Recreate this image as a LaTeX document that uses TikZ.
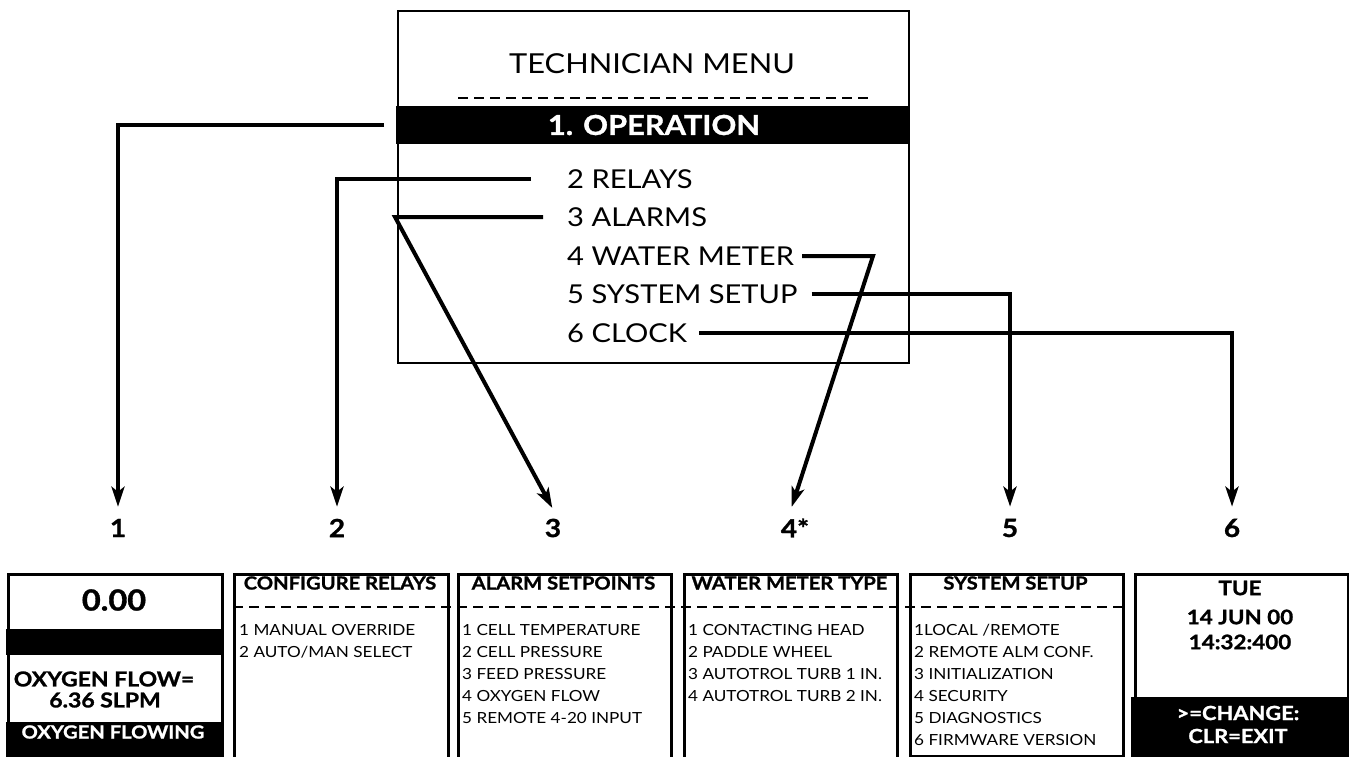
\documentclass[tikz,border=0pt]{standalone}
\usepackage{fontspec}
\setmainfont{Lato}[FakeStretch=1.12, BoldFeatures={FakeBold=1.2}]
\usetikzlibrary{arrows.meta}
\newcommand\myfs[1]{\fontsize{#1}{#1}\selectfont}
\begin{document}
\begin{tikzpicture}[x=1pt,y=-1pt,
  txt/.style={inner sep=0pt},
  menubox/.style={draw, line width=2pt, inner sep=0pt, anchor=north west},
  mitem/.style={txt, anchor=west, font=\myfs{26}},
  conn/.style={line width=4pt, -{Stealth[length=20pt,width=13pt,inset=5pt]}, shorten >=12pt},
  lbl/.style={txt, font=\bfseries\myfs{25}},
  panel/.style={draw, line width=2.5pt, inner sep=0pt, anchor=north west, minimum width=213pt, minimum height=200pt},
  phead/.style={txt, font=\bfseries\myfs{18}},
  plist/.style={txt, anchor=north west, align=left, font=\fontsize{15.3}{22}\selectfont},
  blk/.style={fill=black, inner sep=0pt, anchor=north west},
  wtxt/.style={txt, text=white, font=\bfseries\myfs{19.5}},
  dline/.style={line width=2.5pt, dash pattern=on 10pt off 6pt}
]
\path[use as bounding box] (0,0) rectangle (1349,757);
\clip (0,0) rectangle (1349,757);

% ---------- technician menu ----------
\node[menubox, minimum width=511pt, minimum height=352pt] (menu) at (397,10) {};
\node[txt, font=\myfs{27.5}] (title) at (652,64) {TECHNICIAN MENU};
\draw[dline] (458,98) -- (870,98);
\node[blk, minimum width=513pt, minimum height=38pt] (band) at (396,106) {};
\node[txt, text=white, font=\bfseries\myfs{27.5}] (op) at (654,125) {1. OPERATION};
\node[mitem] (relays) at (567,179) {2 RELAYS};
\node[mitem] (alarms) at (567,217) {3 ALARMS};
\node[mitem] (water)  at (567,256) {4 WATER METER};
\node[mitem] (system) at (567,294) {5 SYSTEM SETUP};
\node[mitem] (clock)  at (567,333) {6 CLOCK};

% ---------- number labels ----------
\node[lbl] (l1) at (118,528) {1};
\node[lbl] (l2) at (337,528) {2};
\node[lbl] (l3) at (553,528) {3};
\node[lbl] (l4) at (795,528) {4*};
\node[lbl] (l5) at (1010,528) {5};
\node[lbl] (l6) at (1232,528) {6};

% ---------- connectors ----------
\coordinate (k3) at (395,0);
\coordinate (k4) at (873,0);
\draw[conn] ([xshift=-12pt]band.west) -| (l1.north);
\draw[conn] ([xshift=-36pt]relays.west) -| (l2.north);
\draw[conn] ([xshift=-24pt]alarms.west) -- (k3 |- alarms.west) -- ([xshift=5pt]l3.north);
\draw[conn] ([xshift=8pt]water.east) -- (k4 |- water.east) -- ([xshift=-7pt]l4.north);
\draw[conn] ([xshift=14pt]system.east) -| (l5.north);
\draw[conn] ([xshift=12pt]clock.east) -| (l6.north);

% ---------- bottom panels ----------
\node[panel, minimum width=214pt] (p1) at (7,573) {};
\node[panel, minimum width=214pt] (p2) at (233,573) {};
\node[panel] (p3) at (457,573) {};
\node[panel] (p4) at (683,573) {};
\node[panel, minimum height=182pt] (p5) at (909,573) {};
\node[panel] (p6) at (1134,573) {};
\draw[dline] ([yshift=-34pt]p2.north west) -- ([yshift=-34pt]p5.north east);

% panel 1
\node[txt, font=\bfseries\myfs{29}] (v1) at (114,600) {0.00};
\node[blk, minimum width=215pt, minimum height=26pt] (b1) at (6,629) {};
\node[txt, font=\bfseries\myfs{20.5}] (of) at (104,679) {OXYGEN FLOW=};
\node[txt, font=\bfseries\myfs{20.5}] (sl) at (105,700) {6.36 SLPM};
\node[blk, minimum width=215pt, minimum height=40pt] (b2) at (6,722) {};
\node[wtxt, font=\bfseries\myfs{18}] (ofl) at (113,732) {OXYGEN FLOWING};

% panel 2
\node[phead] (h2) at (340,583) {CONFIGURE RELAYS};
\node[plist] (i2) at (239,624) {1 MANUAL OVERRIDE\\2 AUTO/MAN SELECT};
% panel 3
\node[phead] (h3) at (563.5,583) {ALARM SETPOINTS};
\node[plist] (i3) at (462,624) {1 CELL TEMPERATURE\\2 CELL PRESSURE\\3 FEED PRESSURE\\4 OXYGEN FLOW\\5 REMOTE 4-20 INPUT};
% panel 4
\node[phead] (h4) at (789.5,583) {WATER METER TYPE};
\node[plist] (i4) at (688,624) {1 CONTACTING HEAD\\2 PADDLE WHEEL\\3 AUTOTROL TURB 1 IN.\\4 AUTOTROL TURB 2 IN.};
% panel 5
\node[phead] (h5) at (1015.5,583) {SYSTEM SETUP};
\node[plist] (i5) at (914,624) {1LOCAL /REMOTE\\2 REMOTE ALM CONF.\\3 INITIALIZATION\\4 SECURITY\\5 DIAGNOSTICS\\6 FIRMWARE VERSION};
% panel 6
\node[txt, font=\bfseries\myfs{20}] (d1) at (1240,588) {TUE};
\node[txt, font=\bfseries\myfs{20}] (d2) at (1240,617) {14 JUN 00};
\node[txt, font=\bfseries\myfs{20}] (d3) at (1240,642) {14:32:400};
\node[blk, minimum width=218pt, minimum height=65pt] (b6) at (1131,697) {};
\node[wtxt] (c1) at (1238,713) {>=CHANGE:};
\node[wtxt] (c2) at (1238,736) {CLR=EXIT};
\end{tikzpicture}
\end{document}
